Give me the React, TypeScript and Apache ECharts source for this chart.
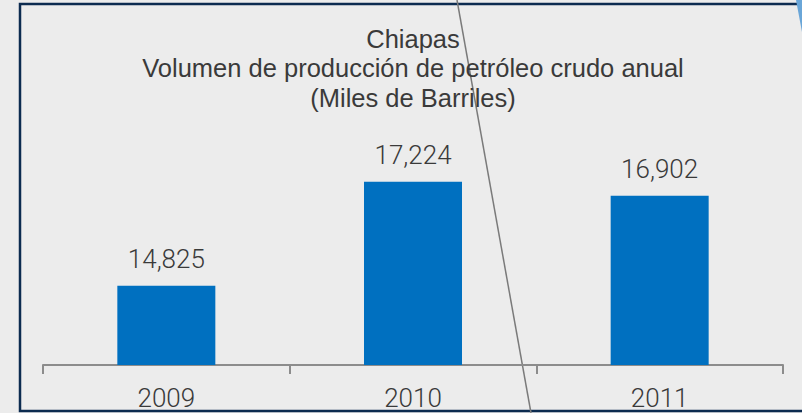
import React, { useEffect, useRef } from "react";
import * as echarts from "echarts";

const categories = ["2009", "2010", "2011"];
const values = [14825, 17224, 16902];
const titleLines = [
  "Chiapas",
  "Volumen de producción de petróleo crudo anual",
  "(Miles de Barriles)",
];

export default function App() {
  const ref = useRef<HTMLDivElement>(null);
  useEffect(() => {
    document.body.style.margin = "0";
    document.body.style.background = "#ececec";
    const chart = echarts.init(ref.current!, null, { renderer: "svg" });
    chart.setOption({
      animation: false,
      backgroundColor: "#ececec",
      title: {
        text: titleLines.join("\n"),
        left: 413,
        top: 24,
        padding: 0,
        textAlign: "center",
        textStyle: {
          fontFamily: "Liberation Sans",
          fontSize: 25.5,
          fontWeight: "normal",
          color: "#3a3a3a",
          lineHeight: 29.5,
        },
      },
      grid: { left: 43, right: 19, top: 148, bottom: 48, containLabel: false },
      xAxis: {
        type: "category",
        data: categories,
        boundaryGap: true,
        axisLine: { lineStyle: { color: "#8c8c8c", width: 2 } },
        axisTick: { show: true, length: 9, lineStyle: { color: "#8c8c8c", width: 2 } },
        axisLabel: {
          fontFamily: "Roboto",
          fontWeight: 300,
          fontSize: 26,
          color: "#3a3a3a",
          margin: 20,
        },
      },
      yAxis: {
        type: "value",
        min: 13000,
        max: 18000,
        show: false,
        splitLine: { show: false },
      },
      series: [
        {
          type: "bar",
          data: values,
          barWidth: 98,
          itemStyle: { color: "#0070c0" },
          label: {
            show: true,
            position: "top",
            distance: 14,
            fontFamily: "Roboto",
            fontWeight: 300,
            fontSize: 26,
            color: "#3a3a3a",
            formatter: (p: any) => Number(p.value).toLocaleString("en-US"),
          },
        },
      ],
      graphic: [
        {
          type: "rect",
          shape: { x: 20, y: 4, width: 800, height: 407 },
          style: { fill: "none", stroke: "#0c2b50", lineWidth: 2.5 },
          silent: true,
        },
        {
          type: "line",
          shape: { x1: 457, y1: 0, x2: 531, y2: 413 },
          style: { stroke: "#7a7a7a", lineWidth: 1.5 },
          silent: true,
        },
        {
          type: "polygon",
          shape: { points: [[796, 0], [802, 0], [802, 32]] },
          style: { fill: "#6aa6d8" },
          silent: true,
        },
      ],
    });
    return () => chart.dispose();
  }, []);
  return <div ref={ref} style={{ width: 802, height: 413 }} />;
}
